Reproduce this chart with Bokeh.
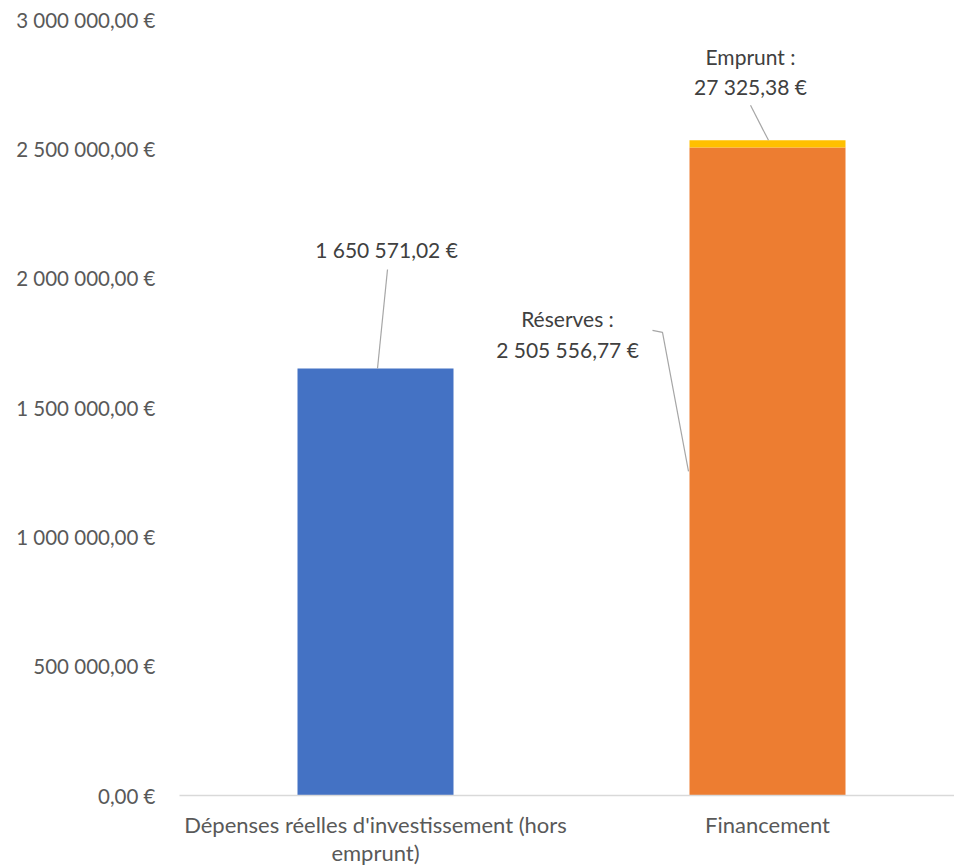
from bokeh.plotting import figure
from bokeh.models import Range1d, FixedTicker
from bokeh.core.properties import value
from bokeh.embed import file_html
from bokeh.resources import INLINE

# ---- data ----
categories = ["Dépenses réelles d'investissement (hors\nemprunt)", "Financement"]
depenses = [1650571.02]
reserves = [2505556.77]
emprunt = [27325.38]
y_ticks = [0, 500000, 1000000, 1500000, 2000000, 2500000, 3000000]


def fmt(v):
    return f"{v:,.2f}".replace(",", " ").replace(".", ",") + " €"


FONT = "Lato"
W, H = 954, 868
LEFT, TOP, BOTTOM = 179, 19, 73
PX_PER_UNIT = 392
frame_w = W - LEFT
frame_h = H - TOP - BOTTOM
X_END = frame_w / PX_PER_UNIT
Y_END = 3000000


def dx(px):
    return px * X_END / frame_w


def dy(px):
    return px * Y_END / frame_h


xpos = [0.5, 1.5]
bar_w = dx(156)

p = figure(width=W, height=H, output_backend="svg", toolbar_location=None,
           x_range=Range1d(0, X_END), y_range=Range1d(0, Y_END),
           min_border_left=LEFT, min_border_right=0, min_border_top=TOP,
           min_border_bottom=BOTTOM)
p.outline_line_color = None
p.xgrid.visible = False
p.ygrid.visible = False
p.background_fill_color = "white"
p.border_fill_color = "white"

# bars
p.vbar(x=[xpos[0]], top=depenses, bottom=0, width=bar_w, color="#4472C4", line_color=None)
p.vbar(x=[xpos[1]], top=reserves, bottom=0, width=bar_w, color="#ED7D31", line_color=None)
top_f = [reserves[0] + emprunt[0]]
p.vbar(x=[xpos[1]], top=top_f, bottom=reserves, width=bar_w, color="#FFC000", line_color=None)

LEAD = "#a6a6a6"
TXT = "#404040"
LBL_SIZE = "21px"

# blue label
v = depenses[0]
p.line(x=[xpos[0] + dx(2), xpos[0] + dx(12)], y=[v, v + dy(99)], line_color=LEAD, line_width=1.2)
p.text(x=[xpos[0] + dx(11)], y=[v + dy(119)], text=[fmt(v)], text_font=value(FONT),
       text_font_size=LBL_SIZE, text_color=TXT, text_align="center", text_baseline="middle")

# emprunt label
t = top_f[0]
p.line(x=[xpos[1] + dx(1), xpos[1] - dx(17)], y=[t, t + dy(35)], line_color=LEAD, line_width=1.2)
p.text(x=[xpos[1] - dx(17)] * 2, y=[t + dy(84), t + dy(54)],
       text=["Emprunt :", fmt(emprunt[0])], text_font=value(FONT),
       text_font_size=LBL_SIZE, text_color=TXT, text_align="center", text_baseline="middle")

# reserves label
m = reserves[0] / 2
p.line(x=[xpos[1] - dx(115), xpos[1] - dx(105), xpos[1] - dx(79)],
       y=[m + dy(141), m + dy(139), m], line_color=LEAD, line_width=1.2)
p.text(x=[xpos[1] - dx(200)] * 2, y=[m + dy(153), m + dy(122)],
       text=["Réserves :", fmt(reserves[0])], text_font=value(FONT),
       text_font_size=LBL_SIZE, text_color=TXT, text_align="center", text_baseline="middle")

# y axis
p.yaxis.ticker = FixedTicker(ticks=y_ticks)
p.yaxis.major_label_overrides = {t_: fmt(t_) for t_ in y_ticks}
p.yaxis.axis_line_color = None
p.yaxis.major_tick_line_color = None
p.yaxis.minor_tick_line_color = None
p.yaxis.major_tick_in = 0
p.yaxis.major_tick_out = 0
p.yaxis.major_label_standoff = 24
p.yaxis.major_label_text_font = FONT
p.yaxis.major_label_text_font_size = "20.5px"
p.yaxis.major_label_text_color = "#595959"

# x axis
p.xaxis.ticker = FixedTicker(ticks=xpos)
p.xaxis.major_label_overrides = {xpos[i]: categories[i] for i in range(2)}
p.xaxis.axis_line_color = "#d9d9d9"
p.xaxis.axis_line_width = 1.5
p.xaxis.major_tick_line_color = None
p.xaxis.minor_tick_line_color = None
p.xaxis.major_tick_in = 0
p.xaxis.major_tick_out = 0
p.xaxis.major_label_standoff = 15
p.xaxis.major_label_text_font = FONT
p.xaxis.major_label_text_font_size = "22px"
p.xaxis.major_label_text_color = "#595959"
p.xaxis.major_label_text_line_height = 1.05

open("out.html", "w").write(file_html(p, INLINE))
